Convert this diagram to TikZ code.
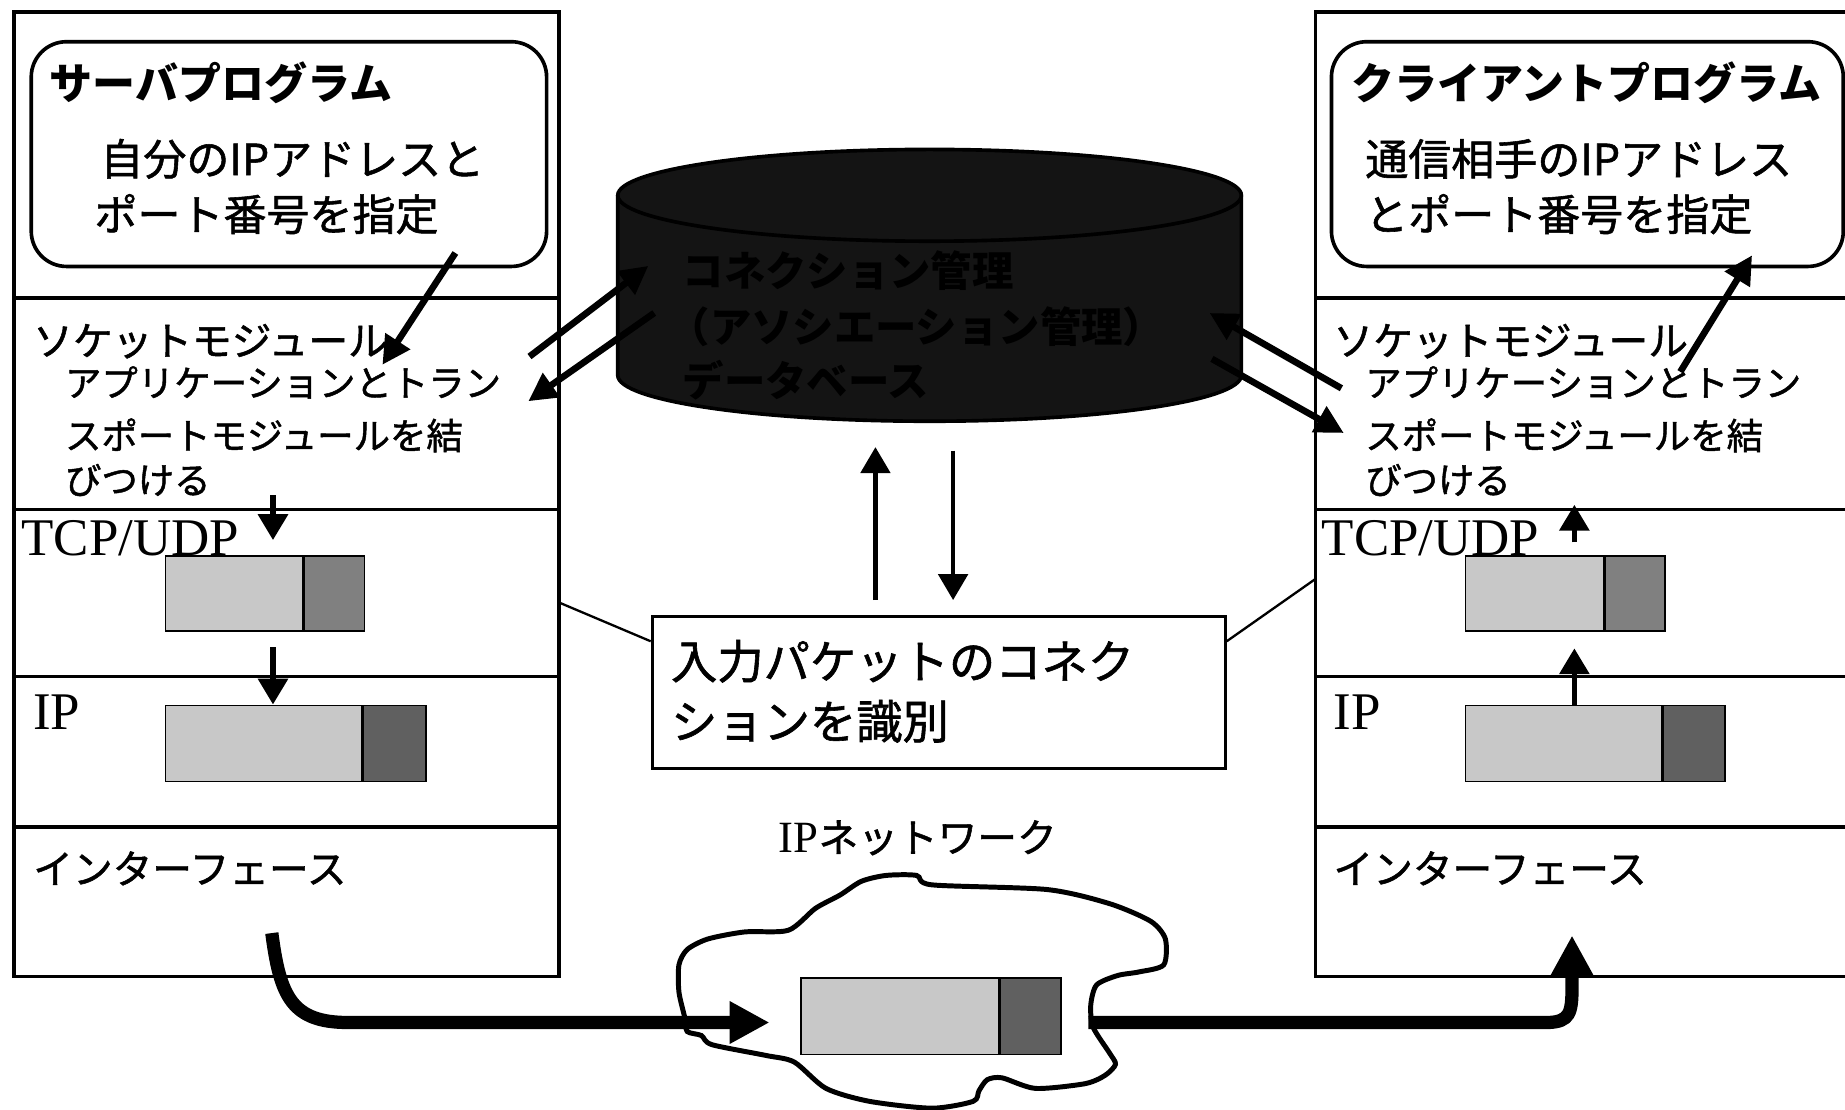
\documentclass[tikz,border=0pt]{standalone}
\usepackage{fontspec}
\setmainfont{Liberation Serif}
\newfontfamily\jpfont[FakeBold=1.3]{Noto Sans CJK JP}
\newfontfamily\jphead{Noto Sans CJK JP}
\usetikzlibrary{arrows.meta, calc}

\begin{document}
\begin{tikzpicture}[
    frame/.style={line width=2.2pt},
    link/.style={line width=1.4pt},
    headtxt/.style={anchor=west, inner sep=0pt, font=\jphead\bfseries\fontsize{26}{30}\selectfont},
    progtxt/.style={anchor=west, inner sep=0pt, font=\jpfont\fontsize{26}{30}\selectfont},
    socktxt/.style={anchor=west, inner sep=0pt, font=\jpfont\fontsize{24}{28}\selectfont},
    desctxt/.style={anchor=west, inner sep=0pt, font=\jpfont\fontsize{22}{26}\selectfont},
    layertxt/.style={anchor=base west, inner sep=0pt, font=\rmfamily\fontsize{32}{36}\selectfont},
    dbtxt/.style={anchor=west, inner sep=0pt, text=black, font=\jphead\bfseries\fontsize{25}{29}\selectfont},
    identtxt/.style={anchor=west, inner sep=0pt, font=\jpfont\fontsize{28}{32}\selectfont},
    progbox/.style={draw, line width=2.2pt, rounded corners=0.75cm, anchor=south west,
        minimum width=10.95cm, minimum height=4.775cm, inner sep=0pt},
    pktbody/.style={draw, line width=0.9pt, fill=pktlight, anchor=south west, inner sep=0pt},
    pkthead/.style={draw, line width=0.9pt, anchor=west, inner sep=0pt},
    midarrow/.style={line width=4pt, -{Triangle[length=0.6cm, width=0.6cm]}},
    thinarrow/.style={line width=3.4pt, -{Triangle[length=0.55cm, width=0.62cm]}},
    fatarrow/.style={line width=8pt, -{Triangle[length=0.85cm, width=0.85cm]}},
]
    \definecolor{pktlight}{RGB}{200,200,200}
    \definecolor{tcphead}{RGB}{128,128,128}
    \definecolor{iphead}{RGB}{96,96,96}
    \definecolor{dbfill}{RGB}{20,20,20}
    \useasboundingbox (0,0) rectangle (39.2,23.575);

    % Server stack
    \draw[frame] (0.3,2.825) rectangle (11.875,23.325);
    \foreach \y in {17.25,12.75,9.2,6.0}
        \draw[frame] (0.3,\y) -- (11.875,\y);
    \node[progbox] (srvProg) at (0.625,17.875) {};
    \node[headtxt] (srvTitle) at (1.05,21.825) {サーバプログラム};
    \node[progtxt] (srvProgA) at (2.125,20.2) {自分のIPアドレスと};
    \node[progtxt] (srvProgB) at (2.0,19.025) {ポート番号を指定};
    \node[socktxt] (srvSock) at (0.7,16.325) {ソケットモジュール};
    \node[desctxt] (srvSockA) at (1.375,15.45) {アプリケーションとトラン};
    \node[desctxt] (srvSockB) at (1.375,14.325) {スポートモジュールを結};
    \node[desctxt] (srvSockC) at (1.375,13.375) {びつける};
    \node[layertxt] (srvTcp) at (0.45,11.775) {TCP/UDP};
    \node[layertxt] (srvIp) at (0.7,8.075) {IP};
    \node[socktxt] (srvIf) at (0.7,5.125) {インターフェース};
    \node[pktbody, minimum width=2.925cm, minimum height=1.6cm] (srvTcpBody) at (3.5,10.15) {};
    \node[pkthead, fill=tcphead, minimum width=1.275cm, minimum height=1.6cm] (srvTcpHead) at (srvTcpBody.east) {};
    \node[pktbody, minimum width=4.175cm, minimum height=1.625cm] (srvIpBody) at (3.5,6.95) {};
    \node[pkthead, fill=iphead, minimum width=1.325cm, minimum height=1.625cm] (srvIpHead) at (srvIpBody.east) {};
    \coordinate (srvSend) at (9.675,18.2);
    \coordinate (srvBind) at (8.125,15.825);
    \coordinate (srvDown) at (5.8,13.05);
    \coordinate (srvTcpIn) at (5.8,12.1);
    \coordinate (srvIpFrom) at (5.8,9.825);
    \draw[midarrow] (srvSend) -- (srvBind);
    \draw[thinarrow] (srvDown) -- (srvTcpIn);
    \draw[thinarrow] (srvIpFrom) -- (srvIpBody.north -| srvIpFrom);

    % Client stack
    \draw[frame] (27.95,2.825) rectangle (39.6,23.325);
    \foreach \y in {17.25,12.75,9.2,6.0}
        \draw[frame] (27.95,\y) -- (39.6,\y);
    \node[progbox, minimum width=10.875cm] (cliProg) at (28.25,17.875) {};
    \node[headtxt] (cliTitle) at (28.7,21.825) {クライアントプログラム};
    \node[progtxt] (cliProgA) at (29.0,20.2) {通信相手のIPアドレス};
    \node[progtxt] (cliProgB) at (29.0,19.025) {とポート番号を指定};
    \node[socktxt] (cliSock) at (28.325,16.325) {ソケットモジュール};
    \node[desctxt] (cliSockA) at (29.0,15.45) {アプリケーションとトラン};
    \node[desctxt] (cliSockB) at (29.0,14.325) {スポートモジュールを結};
    \node[desctxt] (cliSockC) at (29.0,13.375) {びつける};
    \node[layertxt] (cliTcp) at (28.075,11.775) {TCP/UDP};
    \node[layertxt] (cliIp) at (28.325,8.075) {IP};
    \node[socktxt] (cliIf) at (28.325,5.125) {インターフェース};
    \node[pktbody, minimum width=2.925cm, minimum height=1.6cm] (cliTcpBody) at (31.125,10.15) {};
    \node[pkthead, fill=tcphead, minimum width=1.275cm, minimum height=1.6cm] (cliTcpHead) at (cliTcpBody.east) {};
    \node[pktbody, minimum width=4.175cm, minimum height=1.625cm] (cliIpBody) at (31.125,6.95) {};
    \node[pkthead, fill=iphead, minimum width=1.3cm, minimum height=1.625cm] (cliIpHead) at (cliIpBody.east) {};
    \coordinate (cliBind) at (35.7,15.675);
    \coordinate (cliRecv) at (37.225,18.15);
    \coordinate (cliUp) at (33.45,12.05);
    \coordinate (cliSockIn) at (33.45,12.85);
    \coordinate (cliTcpIn) at (33.45,9.8);
    \draw[midarrow] (cliBind) -- (cliRecv);
    \draw[thinarrow] (cliUp) -- (cliSockIn);
    \draw[thinarrow] (cliIpBody.north -| cliTcpIn) -- (cliTcpIn);

    % Connection database
    \fill[dbfill] (13.125,19.425) -- (13.125,15.6)
        arc[start angle=180, end angle=360, x radius=6.625cm, y radius=0.975cm]
        -- (26.375,19.425)
        arc[start angle=0, end angle=180, x radius=6.625cm, y radius=0.975cm] -- cycle;
    \draw[frame] (13.125,19.425) -- (13.125,15.6)
        arc[start angle=180, end angle=360, x radius=6.625cm, y radius=0.975cm]
        -- (26.375,19.425);
    \draw[frame] (19.75,19.425) ellipse[x radius=6.625cm, y radius=0.975cm];
    \node[dbtxt] (dbA) at (14.5,17.825) {コネクション管理};
    \node[dbtxt] (dbB) at (14.2,16.625) {（アソシエーション管理）};
    \node[dbtxt] (dbC) at (14.5,15.5) {データベース};
    \coordinate (srvAsk) at (11.25,16.0);
    \coordinate (dbInL) at (13.775,17.925);
    \coordinate (dbOutL) at (13.9,16.925);
    \coordinate (srvGet) at (11.225,15.05);
    \coordinate (cliAsk) at (28.5,15.325);
    \coordinate (dbInR) at (25.7,16.925);
    \coordinate (dbOutR) at (25.75,15.95);
    \coordinate (cliGet) at (28.55,14.375);
    \draw[midarrow] (srvAsk) -- (dbInL);
    \draw[midarrow] (dbOutL) -- (srvGet);
    \draw[midarrow] (cliAsk) -- (dbInR);
    \draw[midarrow] (dbOutR) -- (cliGet);

    % Packet identification
    \node[draw, line width=1.8pt, anchor=north west, minimum width=12.175cm, minimum height=3.225cm, inner sep=0pt] (ident) at (13.825,10.5) {};
    \node[identtxt] (identA) at (14.25,9.525) {入力パケットのコネク};
    \node[identtxt] (identB) at (14.25,8.25) {ションを識別};
    \coordinate (askUp) at (18.6,10.825);
    \coordinate (dbLow) at (18.6,14.075);
    \coordinate (dbDown) at (20.25,14.0);
    \coordinate (askLow) at (20.25,10.825);
    \draw[thinarrow, line width=2.6pt] (askUp) -- (dbLow);
    \draw[thinarrow, line width=2.6pt] (dbDown) -- (askLow);
    \coordinate (srvLink) at (11.875,10.775);
    \coordinate (cliLink) at (27.95,11.275);
    \draw[link] (srvLink) -- ($(ident.north west)+(0,-0.55)$);
    \draw[link] (cliLink) -- ($(ident.north east)+(0,-0.55)$);

    % IP network
    \node[font=\jpfont\fontsize{24}{28}\selectfont, inner sep=0pt] (netLabel) at (19.5,5.775) {{\rmfamily\fontsize{27}{30}\selectfont IP}ネットワーク};
    \draw[line width=3pt, fill=white] plot[smooth cycle, tension=0.45] coordinates {
        (14.55,1.95) (14.425,2.5) (14.425,3.075) (14.6,3.4) (15.04,3.625) (15.825,3.775)
        (16.75,3.81) (17.325,4.275) (17.85,4.56) (18.3,4.85) (18.825,4.975) (19.475,4.975)
        (19.8,4.775) (22.25,4.675) (23.575,4.375) (24.45,4.0) (24.76,3.625) (24.725,3.075)
        (24.2,2.925) (23.75,2.85) (23.3,2.65) (23.175,2.225) (23.225,1.75) (23.575,1.2)
        (23.7,0.96) (23.475,0.725) (23.05,0.55) (22.0,0.45) (21.29,0.675) (20.975,0.635)
        (20.8,0.4) (20.675,0.175) (19.8,0.03) (18.475,0.175) (17.55,0.45) (16.875,1.01)
        (16.275,1.15) (15.125,1.38) (14.9,1.575) (14.6,1.66)};
    \node[pktbody, minimum width=4.2cm, minimum height=1.625cm] (netBody) at (17.0,1.15) {};
    \node[pkthead, fill=iphead, minimum width=1.3cm, minimum height=1.625cm] (netHead) at (netBody.east) {};
    \coordinate (srvOut) at (5.775,3.75);
    \coordinate (netIn) at (16.35,1.85);
    \coordinate (netOut) at (23.125,1.85);
    \coordinate (cliIn) at (33.4,3.7);
    \draw[fatarrow] (srvOut) .. controls (5.95,2.4) and (6.2,1.85) .. (7.4,1.85) -- (netIn);
    \draw[fatarrow] (netOut) -- (32.9,1.85) .. controls (33.35,1.87) and (33.4,2.05) .. (33.4,2.6) -- (cliIn);
\end{tikzpicture}
\end{document}
